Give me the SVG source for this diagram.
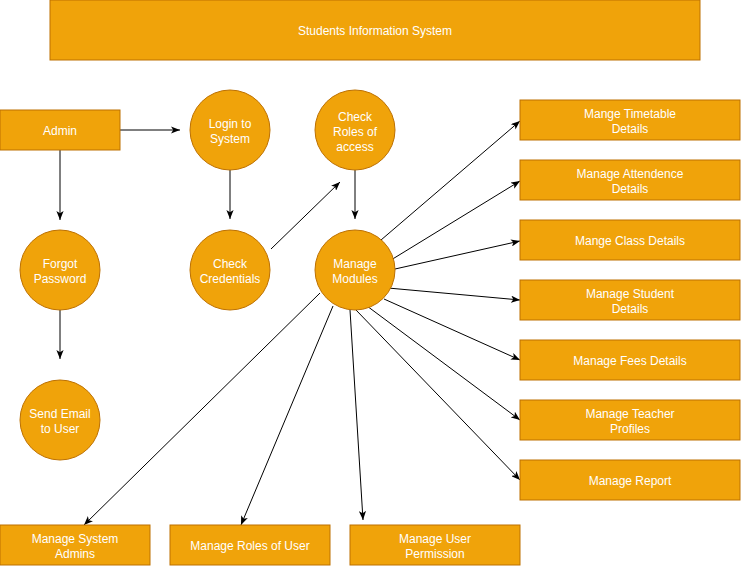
<svg xmlns="http://www.w3.org/2000/svg" width="741" height="566" viewBox="0 0 741 566">
<defs>
<style>
.n{fill:#f0a30a;stroke:#bd7000;stroke-width:1}
.t{font-family:"Liberation Sans",Arial,sans-serif;font-size:12px;fill:#ffffff;text-anchor:middle}
.e{fill:none;stroke:#000000;stroke-width:1;marker-end:url(#arr)}
</style>
<marker id="arr" markerUnits="userSpaceOnUse" viewBox="0 0 10 8" markerWidth="9" markerHeight="7.2" refX="10" refY="4" orient="auto">
<path d="M0,0 L10,4 L0,8 L2.5,4 z" fill="#000000"/>
</marker>
</defs>
<rect width="741" height="566" fill="#ffffff"/>
<g id="connectors">
<path class="e" d="M120,130 L180,130"/>
<path class="e" d="M60,150 L60,220"/>
<path class="e" d="M60,310 L60,359"/>
<path class="e" d="M230,170 L230,219"/>
<path class="e" d="M271,249 L340,182"/>
<path class="e" d="M355,170 L355,219"/>
<path class="e" d="M381,240 L520,121"/>
<path class="e" d="M391,260 L520,181"/>
<path class="e" d="M395,269 L520,241"/>
<path class="e" d="M388,288 L520,300"/>
<path class="e" d="M384,299 L520,360"/>
<path class="e" d="M367,306 L520,420"/>
<path class="e" d="M356,310 L520,480"/>
<path class="e" d="M320,293 L84,525"/>
<path class="e" d="M333,306 L241,525"/>
<path class="e" d="M350,310 L363,520"/>
</g>
<g id="title"><rect class="n" x="50" y="0" width="650" height="60"/><text class="t" x="375" y="35">Students Information System</text></g>
<g id="admin"><rect class="n" x="0" y="110" width="120" height="40"/><text class="t" x="60" y="135">Admin</text></g>
<g id="login"><circle class="n" cx="230" cy="130" r="40"/><text class="t" x="230" y="128">Login to</text><text class="t" x="230" y="143">System</text></g>
<g id="checkRoles"><circle class="n" cx="355" cy="130" r="40"/><text class="t" x="355" y="121">Check</text><text class="t" x="355" y="136">Roles of</text><text class="t" x="355" y="151">access</text></g>
<g id="forgot"><circle class="n" cx="60" cy="270" r="40"/><text class="t" x="60" y="268">Forgot</text><text class="t" x="60" y="283">Password</text></g>
<g id="checkCred"><circle class="n" cx="230" cy="270" r="40"/><text class="t" x="230" y="268">Check</text><text class="t" x="230" y="283">Credentials</text></g>
<g id="modules"><circle class="n" cx="355" cy="270" r="40"/><text class="t" x="355" y="268">Manage</text><text class="t" x="355" y="283">Modules</text></g>
<g id="sendEmail"><circle class="n" cx="60" cy="420" r="40"/><text class="t" x="60" y="418">Send Email</text><text class="t" x="60" y="433">to User</text></g>
<g id="timetable"><rect class="n" x="520" y="100" width="220" height="40"/><text class="t" x="630" y="118">Mange Timetable</text><text class="t" x="630" y="133">Details</text></g>
<g id="attendence"><rect class="n" x="520" y="160" width="220" height="40"/><text class="t" x="630" y="178">Manage Attendence</text><text class="t" x="630" y="193">Details</text></g>
<g id="class"><rect class="n" x="520" y="220" width="220" height="40"/><text class="t" x="630" y="245">Mange Class Details</text></g>
<g id="student"><rect class="n" x="520" y="280" width="220" height="40"/><text class="t" x="630" y="298">Manage Student</text><text class="t" x="630" y="313">Details</text></g>
<g id="fees"><rect class="n" x="520" y="340" width="220" height="40"/><text class="t" x="630" y="365">Manage Fees Details</text></g>
<g id="teacher"><rect class="n" x="520" y="400" width="220" height="40"/><text class="t" x="630" y="418">Manage Teacher</text><text class="t" x="630" y="433">Profiles</text></g>
<g id="report"><rect class="n" x="520" y="460" width="220" height="40"/><text class="t" x="630" y="485">Manage Report</text></g>
<g id="sysAdmins"><rect class="n" x="0" y="525" width="150" height="40"/><text class="t" x="75" y="543">Manage System</text><text class="t" x="75" y="558">Admins</text></g>
<g id="rolesUser"><rect class="n" x="170" y="525" width="160" height="40"/><text class="t" x="250" y="550">Manage Roles of User</text></g>
<g id="userPerm"><rect class="n" x="350" y="525" width="170" height="40"/><text class="t" x="435" y="543">Manage User</text><text class="t" x="435" y="558">Permission</text></g>
</svg>
